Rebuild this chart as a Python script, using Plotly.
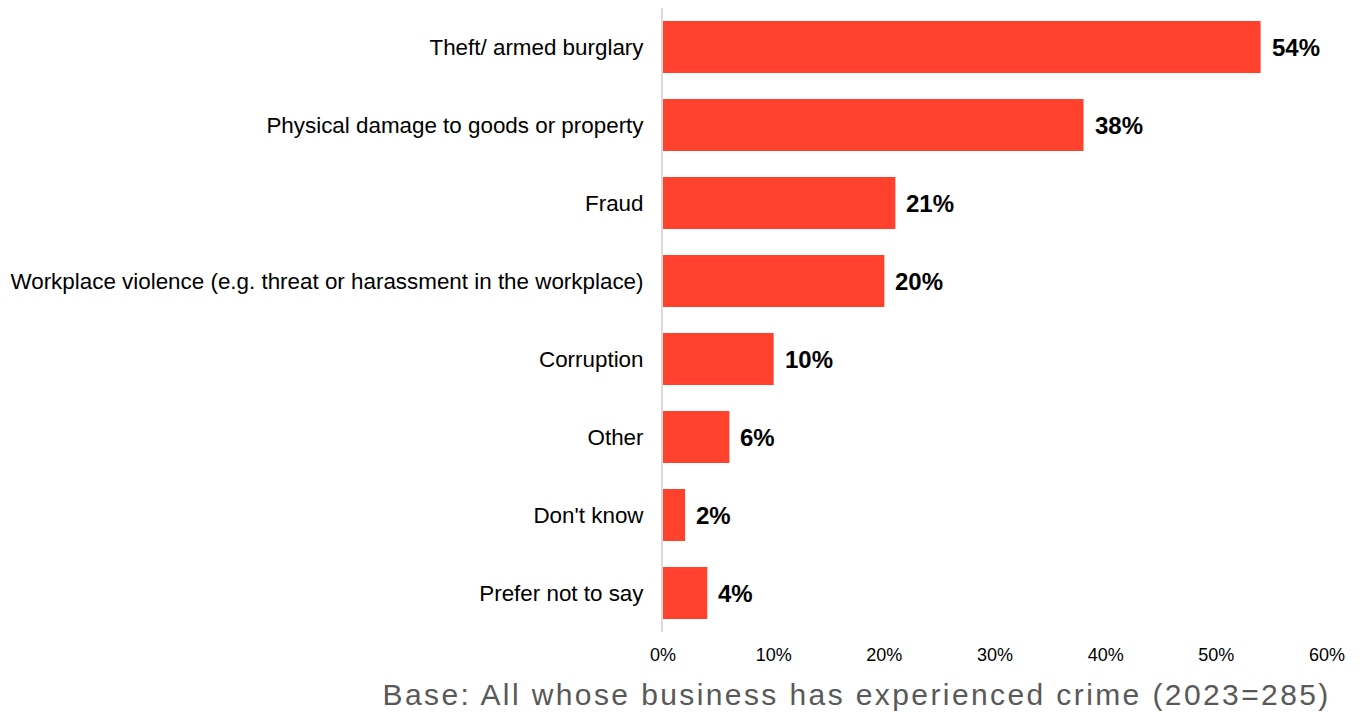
import plotly.graph_objects as go

categories = [
    "Theft/ armed burglary",
    "Physical damage to goods or property",
    "Fraud",
    "Workplace violence (e.g. threat or harassment in the workplace)",
    "Corruption",
    "Other",
    "Don't know",
    "Prefer not to say",
]
values = [54, 38, 21, 20, 10, 6, 2, 4]
x_ticks = [0, 10, 20, 30, 40, 50, 60]
x_tick_labels = [f"{t}%" for t in x_ticks]
footnote = "Base: All whose business has experienced crime (2023=285)"

FONT = "Liberation Sans, Arial, sans-serif"

fig = go.Figure(
    go.Bar(
        x=values,
        y=categories,
        orientation="h",
        marker=dict(color="#FF412D", line=dict(width=0)),
        width=0.667,
        hoverinfo="x+y",
    )
)

# Bold value labels just to the right of each bar
value_labels = [
    dict(
        x=v,
        y=c,
        xref="x",
        yref="y",
        text=f"<b>{v}%</b>",
        showarrow=False,
        xanchor="left",
        yanchor="middle",
        xshift=9,
        font=dict(family=FONT, size=24, color="#000000"),
    )
    for c, v in zip(categories, values)
]

# Footnote below the axis, centred so the letter-spaced text ends at the right edge
footnote_ann = dict(
    text=footnote,
    xref="paper",
    yref="paper",
    x=0.2914,
    y=0,
    xanchor="center",
    yanchor="top",
    yshift=-44,
    showarrow=False,
    font=dict(size=30, color="#595959", family=FONT),
)

fig.update_layout(
    width=1372,
    height=712,
    margin=dict(l=663, r=45, t=8, b=80),
    plot_bgcolor="#FFFFFF",
    paper_bgcolor="#FFFFFF",
    showlegend=False,
    font=dict(family=FONT, color="#000000"),
    xaxis=dict(
        range=[0, 60],
        tickvals=x_ticks,
        ticktext=x_tick_labels,
        showgrid=False,
        zeroline=False,
        showline=False,
        ticks="",
        tickfont=dict(size=18, color="#000000"),
        ticklabelstandoff=10,
    ),
    yaxis=dict(
        autorange="reversed",
        showgrid=False,
        zeroline=False,
        showline=True,
        linecolor="#D9D9D9",
        linewidth=2,
        ticks="",
        tickfont=dict(size=22.4, color="#000000"),
        ticklabelstandoff=13,
    ),
    annotations=value_labels + [footnote_ann],
)

# Widen the footnote's letter spacing after each render
post_js = """
var gd = document.getElementsByClassName('plotly-graph-div')[0];
function spaceFootnote() {
  var texts = gd.querySelectorAll('.annotation-text');
  texts.forEach(function (t) {
    if (t.textContent.indexOf('Base:') === 0) {
      t.style.letterSpacing = '2.4px';
    }
  });
}
spaceFootnote();
gd.on('plotly_afterplot', spaceFootnote);
"""

fig.write_html("out.html", post_script=post_js)
